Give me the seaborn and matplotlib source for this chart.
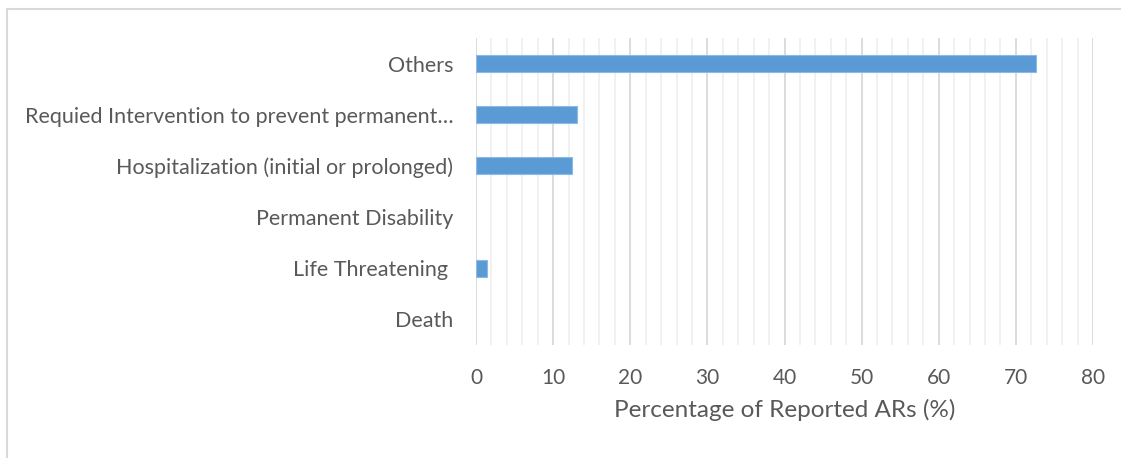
import matplotlib
matplotlib.use("Agg")
import matplotlib.pyplot as plt
from matplotlib.patches import Rectangle
from matplotlib.ticker import MultipleLocator
import seaborn as sns
import pandas as pd

categories = [
    "Others",
    "Requied Intervention to prevent permanent\u2026",
    "Hospitalization (initial or prolonged)",
    "Permanent Disability",
    "Life Threatening ",
    "Death",
]
percentages = [72.6, 13.1, 12.4, 0.0, 1.4, 0.0]

df = pd.DataFrame({"category": categories, "pct": percentages})

sns.set_theme(style="white")
plt.rcParams["font.family"] = ["Lato", "DejaVu Sans"]

text_color = "#595959"
fig = plt.figure(figsize=(11.21, 4.58), dpi=100)
ax = fig.add_axes([476 / 1121, 1 - 345 / 458, (1093 - 476) / 1121, (345 - 38) / 458])

sns.barplot(data=df, x="pct", y="category", order=categories, orient="h",
            color="#5B9BD5", width=0.33, saturation=1, ax=ax,
            edgecolor="#8DB9E4", linewidth=0.8, zorder=3)
for bar in ax.patches:
    if bar.get_width() == 0:
        bar.set_linewidth(0)

ax.set_xlim(0, 80)
ax.set_ylim(5.5, -0.5)
ax.xaxis.set_major_locator(MultipleLocator(10))
ax.xaxis.set_minor_locator(MultipleLocator(2))
ax.grid(axis="x", which="major", color="#D9D9D9", linewidth=1.3, zorder=0)
ax.grid(axis="x", which="minor", color="#F0F0F0", linewidth=1.3, zorder=0)
ax.set_axisbelow(True)
for s in ax.spines.values():
    s.set_visible(False)

ax.tick_params(axis="x", which="both", length=0, pad=16.5, labelsize=15, labelcolor=text_color)
ax.tick_params(axis="y", length=0, pad=16.5, labelsize=15.5, labelcolor=text_color)
ax.set_ylabel("")
ax.set_xlabel("Percentage of Reported ARs (%)", fontsize=17.5, color=text_color, labelpad=8)

# chart frame
fig.patches.append(Rectangle((7 / 1121, -0.01), 1.1, 1 - 9 / 458 + 0.01,
                             transform=fig.transFigure, fill=False,
                             edgecolor="#D9D9D9", linewidth=1.5))

fig.savefig("out.png", dpi=100)
